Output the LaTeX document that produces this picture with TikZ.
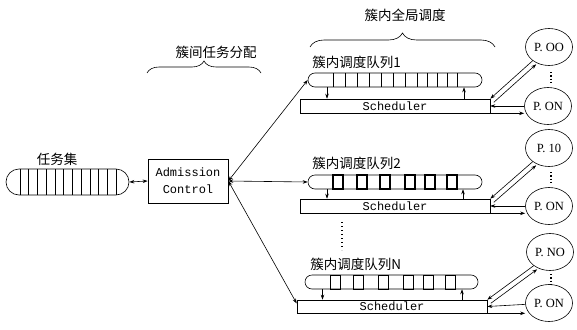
\documentclass[tikz,border=0pt]{standalone}
\usepackage{fontspec}
\usetikzlibrary{arrows.meta,decorations.pathreplacing,shapes.geometric,calc}
\newfontfamily\cjk{Noto Sans CJK SC}
\newfontfamily\monofont{Liberation Mono}
\newfontfamily\procfont{Liberation Serif}

\begin{document}
\begin{tikzpicture}[x=1pt,y=-1pt,
  line width=0.6pt,
  tip/.tip={Stealth[length=5pt,width=3.5pt]},
  arr/.style={-tip},
  dbl/.style={tip-tip},
  queue/.style={draw, rounded corners=7pt, minimum height=14pt, inner sep=0pt},
  sched/.style={draw, minimum width=190pt, minimum height=14pt, inner sep=0pt,
    font=\monofont\fontsize{12}{12}\selectfont},
  proc/.style={draw, ellipse, minimum width=47pt, minimum height=37pt, inner sep=0pt,
    font=\procfont\fontsize{12.5}{12.5}\selectfont},
  lbl/.style={font=\cjk\fontsize{13.5}{14}\selectfont, inner sep=0pt},
  bracedeco/.style={decorate, decoration={brace, amplitude=#1}},
  cellbox/.style={draw, line width=#1, minimum width=10pt, minimum height=14pt, inner sep=0pt},
  vdotline/.style={line width=1.3pt, dash pattern=on 1.3pt off 2pt},
]
\useasboundingbox (0,0) rectangle (577,329);

% ---- task set queue ----
\node[lbl] (tl) at (57,159) {任务集};
\node[draw, rounded corners=13pt, minimum width=123pt, minimum height=26pt, inner sep=0pt] (lq) at (67.5,182) {};
\foreach \i in {0,...,11} \draw ({20+8.75*\i},169) -- ({20+8.75*\i},195);

% ---- admission control ----
\node[draw, minimum width=80pt, minimum height=44pt, inner sep=0pt, align=center,
  font=\monofont\fontsize{12}{17}\selectfont] (ac) at (188,181) {Admission\\Control};
\draw[dbl] (lq.east) -- (ac.west);

% ---- braces ----
\draw[bracedeco=12pt] (147,73) -- (261,73);
\node[lbl] (b1) at (216,52) {簇间任务分配};
\draw[bracedeco=14pt] (310,47) -- (495,47);
\node[lbl] (b2) at (405,15) {簇内全局调度};

% ---- cluster 1 ----
\node[lbl, anchor=west] (l1) at (312,62) {簇内调度队列1};
\node[queue, minimum width=174pt] (q1) at (395,80) {};
\foreach \x in {333,345,357,369,381,393,405,417,427,437,447,457} \draw (\x,73) -- (\x,87);
\node[sched] (s1) at (395,106) {Scheduler};
\draw[arr] ([xshift=-68pt]q1.south) -- ([xshift=-68pt]q1.south |- s1.north);
\draw[arr] ([xshift=69pt]s1.north) -- ([xshift=69pt]s1.north |- q1.south);
\node[proc] (c1) at (549,47) {P. OO};
\node[proc] (d1) at (548,106) {P. ON};
\draw[vdotline] (551,72) -- (551,84);
\draw[arr] (c1.220) -- (s1.north east);
\draw[arr] ([xshift=3.5pt,yshift=-3.6pt]s1.north east) -- ([xshift=3.5pt,yshift=-3.6pt]c1.220);
\draw[arr] (d1) -- (s1.east);
\draw[arr] (s1.south east) -- (s1.south east -| d1.west);

% ---- cluster 2 ----
\node[lbl, anchor=west] (l2) at (312,163) {簇内调度队列2};
\node[queue, minimum width=174pt] (q2) at (395,182) {};
\foreach \x in {338,362,385,410,430,452} \node[cellbox=1.1pt] at (\x,182) {};
\node[sched] (s2) at (395,206) {Scheduler};
\draw[arr] ([xshift=-68pt]q2.south) -- ([xshift=-68pt]q2.south |- s2.north);
\draw[arr] ([xshift=68pt]s2.north) -- ([xshift=68pt]s2.north |- q2.south);
\node[proc] (c2) at (549,148) {P. 10};
\node[proc] (d2) at (549,206) {P. ON};
\draw[vdotline] (551,172) -- (551,184);
\draw[arr] (c2.220) -- (s2.north east);
\draw[arr] ([xshift=3.5pt,yshift=-3.6pt]s2.north east) -- ([xshift=3.5pt,yshift=-3.6pt]c2.220);
\draw[arr] (d2) -- (s2.east);
\draw[arr] (s2.south east) -- (s2.south east -| d2.west);

% ---- gap between clusters ----
\draw[line width=1.4pt, dash pattern=on 1.4pt off 2.6pt] (342,222) -- (342,250);

% ---- cluster N ----
\node[lbl, anchor=west] (lN) at (310,264) {簇内调度队列N};
\node[queue, minimum width=173pt] (qN) at (391.5,282) {};
\foreach \x in {335,358,383,408,428,450} \node[cellbox=0.6pt] at (\x,282) {};
\node[sched, minimum height=13pt] (sN) at (392,306.5) {Scheduler};
\draw[arr] ([xshift=-69pt]qN.south) -- ([xshift=-69pt]qN.south |- sN.north);
\draw[arr] ([xshift=70pt]sN.north) -- ([xshift=70pt]sN.north |- qN.south);
\node[proc] (cN) at (550,252) {P. NO};
\node[proc] (dN) at (549,303) {P. ON};
\draw[vdotline] (551,274) -- (551,286);
\draw[arr] (cN.220) -- (sN.north east);
\draw[arr] ([xshift=3.5pt,yshift=-3.6pt]sN.north east) -- ([xshift=3.5pt,yshift=-3.6pt]cN.220);
\draw[arr] (dN) -- (sN.east);
\draw[arr] (sN.south east) -- (sN.south east -| dN.west);

% ---- distribution from admission control ----
\draw[dbl] (ac.east) -- (q1.west);
\draw[dbl] (ac.east) -- (q2.west);
\draw[dbl] (ac.east) -- ([yshift=3pt]sN.west);
\end{tikzpicture}
\end{document}
